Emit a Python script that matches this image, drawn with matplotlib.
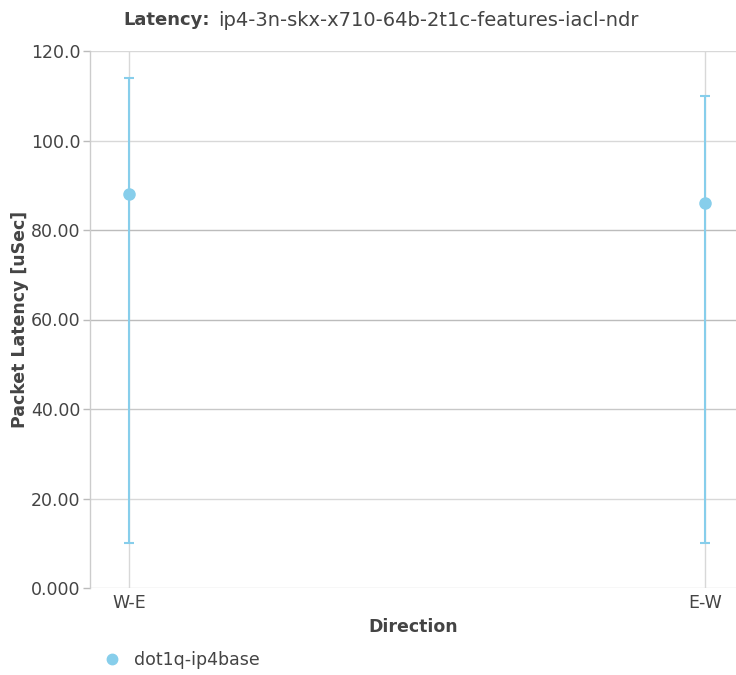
"""Latency chart: packet latency per direction with min/max error bars"""

import matplotlib

matplotlib.use("Agg")
from matplotlib import pyplot as plt
from matplotlib.lines import Line2D

# data
directions = ["W-E", "E-W"]
latency_avg = [88, 86]
latency_min = [10, 10]
latency_max = [114, 110]
series_name = "dot1q-ip4base"
y_ticks = [0, 20, 40, 60, 80, 100, 120]
y_tick_labels = ["0.000", "20.00", "40.00", "60.00", "80.00", "100.0", "120.0"]

TEXT = "#444444"
COLOR = "#87ceeb"


def main():
    plt.rcParams["font.family"] = "DejaVu Sans"
    fig = plt.figure(figsize=(7.36, 6.75), dpi=100)
    ax = fig.add_axes([90 / 736, 87 / 675, 646 / 736, 537 / 675])

    xs = list(range(len(directions)))
    err_lo = [a - lo for a, lo in zip(latency_avg, latency_min)]
    err_hi = [hi - a for a, hi in zip(latency_avg, latency_max)]
    ax.errorbar(
        xs, latency_avg, yerr=[err_lo, err_hi],
        fmt="o", color=COLOR, ecolor=COLOR, markersize=8,
        elinewidth=1.5, capsize=3.3, capthick=1.5, zorder=3,
    )

    ax.set_xlim(-0.068, 1.054)
    ax.set_ylim(0, 120)
    ax.set_xticks(xs)
    ax.set_xticklabels(directions)
    ax.set_yticks(y_ticks)
    ax.set_yticklabels(y_tick_labels)
    ax.tick_params(axis="x", length=0, labelsize=12.5, colors=TEXT, pad=4)
    ax.tick_params(axis="y", length=5, width=1, color="#bbbbbb",
                   labelsize=12.5, labelcolor=TEXT, pad=2)

    ax.grid(True, color="#d8d8d8", linewidth=1)
    for line, tick in zip(ax.get_ygridlines(), y_ticks):
        if tick in (60, 80):
            line.set_color("#bcbcbc")
        elif tick == 40:
            line.set_color("#c8c8c8")
    ax.set_axisbelow(True)
    for side in ("top", "right", "bottom"):
        ax.spines[side].set_visible(False)
    ax.spines["left"].set_color("#cccccc")
    ax.spines["left"].set_linewidth(1)

    ax.set_xlabel("Direction", fontsize=12.5, fontweight="bold", color=TEXT,
                  labelpad=5)
    ax.set_ylabel("Packet Latency [uSec]", fontsize=12.5, fontweight="bold",
                  color=TEXT)
    ax.yaxis.set_label_coords((29 - 90) / 646, 0.5)

    title_y = 1 - 20 / 675
    fig.text(123 / 736, title_y, "Latency:", fontsize=13, color=TEXT,
             fontweight="bold", ha="left", va="center")
    fig.text(218 / 736, title_y,
             "ip4-3n-skx-x710-64b-2t1c-features-iacl-ndr",
             fontsize=14, color=TEXT, ha="left", va="center")

    handle = Line2D([], [], marker="o", linestyle="", color=COLOR,
                    markersize=7.5)
    fig.legend([handle], [series_name], loc="center left",
               bbox_to_anchor=(105 / 736, 1 - 660 / 675), frameon=False,
               fontsize=12.5, labelcolor=TEXT, handletextpad=0.85,
               handlelength=0.8, borderaxespad=0, borderpad=0)

    fig.savefig("out.png", dpi=100)


if __name__ == "__main__":
    main()
